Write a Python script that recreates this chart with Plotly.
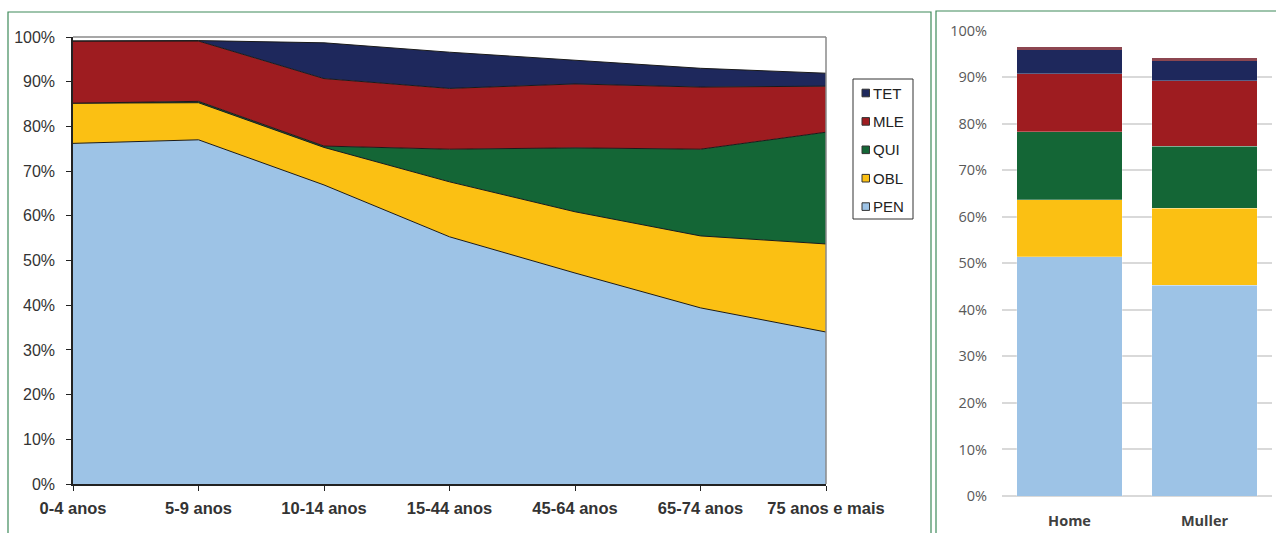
import plotly.graph_objects as go

# Age groups (left panel)
age_groups = ["0-4 anos", "5-9 anos", "10-14 anos", "15-44 anos",
              "45-64 anos", "65-74 anos", "75 anos e mais"]

# Share of each group, in % (stacked from the bottom)
pen = [76.2, 77.0, 66.9, 55.3, 47.2, 39.4, 34.0]
obl = [9.0, 8.3, 8.4, 12.3, 13.7, 16.1, 19.7]
qui = [0.0, 0.3, 0.3, 7.3, 14.3, 19.4, 25.0]
mle = [13.9, 13.5, 15.1, 13.6, 14.3, 13.9, 10.3]
tet = [0.0, 0.1, 8.0, 8.1, 5.3, 4.2, 2.9]

# Sex (right panel)
sexes = ["Home", "Muller"]
pen_sex = [51.4, 45.3]
obl_sex = [12.2, 16.5]
qui_sex = [14.7, 13.3]
mle_sex = [12.4, 14.1]
tet_sex = [5.3, 4.5]
other_sex = [0.4, 0.4]

# Percentage axis
pct_ticks = list(range(0, 101, 10))
pct_labels = [f"{v}%" for v in pct_ticks]

series_names = ["PEN", "OBL", "QUI", "MLE", "TET"]
colors = {
    "PEN": "#9DC3E6",
    "OBL": "#FBC013",
    "QUI": "#146636",
    "MLE": "#9E1C20",
    "TET": "#1E285C",
}
left_values = {"PEN": pen, "OBL": obl, "QUI": qui, "MLE": mle, "TET": tet}
right_values = {"PEN": pen_sex, "OBL": obl_sex, "QUI": qui_sex,
                "MLE": mle_sex, "TET": tet_sex}

W, H = 1276, 533


def px_x(v):
    return v / W


def px_y(v):
    return (H - v) / H


fig = go.Figure()

x_idx = list(range(len(age_groups)))

# Stacked areas
for name in series_names:
    fig.add_trace(go.Scatter(
        x=x_idx, y=left_values[name], name=name,
        stackgroup="age", mode="lines",
        line=dict(color="#1a1a1a", width=1),
        fillcolor=colors[name], showlegend=False,
        xaxis="x", yaxis="y",
    ))

# Stacked bars by sex
for name in series_names:
    fig.add_trace(go.Bar(
        x=sexes, y=right_values[name], name=name,
        marker=dict(color=colors[name],
                    line=dict(color="rgba(255,255,255,0.45)", width=0.6)),
        showlegend=False, xaxis="x2", yaxis="y2",
    ))
fig.add_trace(go.Bar(
    x=sexes, y=other_sex, name="Outros",
    marker=dict(color="#8C4650", line=dict(width=0)),
    showlegend=False, xaxis="x2", yaxis="y2",
))

axis_font = dict(family="Liberation Sans, Arial, sans-serif", size=16, color="#333333")
right_font = dict(family="Open Sans, sans-serif", size=14.5, color="#595959")

shapes = [
    # Plot-area frame, top and right edges
    dict(type="line", xref="paper", yref="paper",
         x0=px_x(73), x1=px_x(826), y0=px_y(37), y1=px_y(37),
         line=dict(color="#8a8a8a", width=1.5)),
    dict(type="line", xref="paper", yref="paper",
         x0=px_x(826), x1=px_x(826), y0=px_y(37), y1=px_y(484),
         line=dict(color="#8a8a8a", width=1.5)),
    # Panel borders
    dict(type="rect", xref="paper", yref="paper",
         x0=px_x(8), x1=px_x(931), y0=px_y(12), y1=px_y(540),
         line=dict(color="#3E8A5A", width=1.2)),
    dict(type="rect", xref="paper", yref="paper",
         x0=px_x(936), x1=px_x(1285), y0=px_y(11), y1=px_y(540),
         line=dict(color="#3E8A5A", width=1.2)),
    # Legend box
    dict(type="rect", xref="paper", yref="paper",
         x0=px_x(853), x1=px_x(913), y0=px_y(79), y1=px_y(219),
         line=dict(color="#333333", width=1), fillcolor="white"),
]
annotations = []

# Legend entries, top to bottom: TET, MLE, QUI, OBL, PEN
legend_top, legend_step = 93, 28.4
for i, name in enumerate(reversed(series_names)):
    cy = legend_top + i * legend_step
    shapes.append(dict(
        type="rect", xref="paper", yref="paper",
        x0=px_x(862), x1=px_x(869.5), y0=px_y(cy + 3.8), y1=px_y(cy - 3.8),
        fillcolor=colors[name], line=dict(color="#333333", width=1),
    ))
    annotations.append(dict(
        x=px_x(871), y=px_y(cy), xref="paper", yref="paper",
        text=name, showarrow=False, xanchor="left", yanchor="middle",
        font=dict(family="Liberation Sans, Arial, sans-serif", size=15,
                  color="#222222"),
    ))

fig.update_layout(
    width=W, height=H,
    margin=dict(l=0, r=0, t=0, b=0),
    paper_bgcolor="white", plot_bgcolor="white",
    barmode="stack", bargap=0.215,
    showlegend=False,
    xaxis=dict(
        domain=[px_x(73), px_x(826)], range=[0, 6],
        tickvals=x_idx, ticktext=age_groups,
        showline=True, linecolor="#222222", linewidth=1.5,
        ticks="outside", ticklen=5, tickcolor="#222222",
        ticklabelstandoff=3,
        showgrid=False, zeroline=False, automargin=False,
        tickfont=dict(family="Liberation Sans, Arial, sans-serif", size=16.5,
                      color="#333333", weight="bold"),
        fixedrange=True,
    ),
    yaxis=dict(
        domain=[px_y(484), px_y(37)], range=[0, 100],
        tickvals=pct_ticks, ticktext=pct_labels,
        showline=True, linecolor="#222222", linewidth=1.5,
        ticks="outside", ticklen=5, tickcolor="#222222",
        ticklabelstandoff=8,
        showgrid=False, zeroline=False, automargin=False,
        tickfont=axis_font, fixedrange=True,
    ),
    xaxis2=dict(
        domain=[px_x(1002), px_x(1272)], anchor="y2",
        showline=False, ticks="", showgrid=False, zeroline=False,
        automargin=False,
        tickfont=dict(family="Open Sans, sans-serif", size=14.5,
                      color="#404040", weight="bold"),
        ticklabelstandoff=14,
    ),
    yaxis2=dict(
        domain=[px_y(496), px_y(30.5)], anchor="x2", range=[0, 100],
        tickvals=pct_ticks, ticktext=pct_labels,
        showline=False, showgrid=True, gridcolor="#D9D9D9", gridwidth=1.5,
        zeroline=True, zerolinecolor="#D9D9D9", zerolinewidth=1.5,
        ticks="", ticklabelstandoff=14, automargin=False,
        tickfont=right_font,
    ),
    shapes=shapes,
    annotations=annotations,
)

fig.write_html("out.html")
